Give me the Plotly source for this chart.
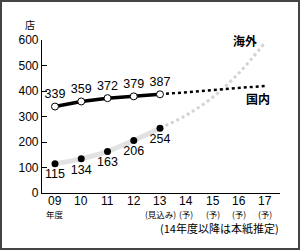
import plotly.graph_objects as go

years = ["09", "10", "11", "12", "13", "14", "15", "16", "17"]
sub_labels = ["年度", "", "", "", "(見込み)", "(予)", "(予)", "(予)", "(予)"]
domestic_actual = [339, 359, 372, 379, 387]
domestic_forecast = [387, 395, 403, 411, 420]
overseas_actual = [115, 134, 163, 206, 254]
overseas_forecast = [254, 305, 375, 470, 590]

W, H = 302, 252
def px(x): return x / W
def py(y): return 1 - y / H

FONT = "Liberation Sans, Arial, Noto Sans CJK JP"
JP = "Noto Sans CJK JP, Liberation Sans"

xa = list(range(5))
xf = list(range(4, 9))

fig = go.Figure()
fig.add_trace(go.Scatter(x=xa, y=overseas_actual, mode="lines",
                         line=dict(color="#e2e2e2", width=5, shape="spline"),
                         hoverinfo="skip", showlegend=False))
fig.add_trace(go.Scatter(x=xf, y=overseas_forecast, mode="lines",
                         line=dict(color="#d4d4d4", width=3, dash="dot", shape="spline"),
                         hoverinfo="skip", showlegend=False))
fig.add_trace(go.Scatter(x=xf, y=domestic_forecast, mode="lines",
                         line=dict(color="black", width=2.5, dash="dot"),
                         hoverinfo="skip", showlegend=False))
fig.add_trace(go.Scatter(x=xa, y=domestic_actual, mode="lines+markers+text",
                         line=dict(color="black", width=3.5),
                         marker=dict(size=7, color="white", line=dict(color="black", width=1)),
                         text=[str(v) for v in domestic_actual], textposition="top center",
                         textfont=dict(family=FONT, size=12.5, color="black"),
                         showlegend=False, cliponaxis=False))
fig.add_trace(go.Scatter(x=xa, y=overseas_actual, mode="markers+text",
                         marker=dict(size=7, color="black"),
                         text=[str(v) for v in overseas_actual], textposition="bottom center",
                         textfont=dict(family=FONT, size=12.5, color="black"),
                         showlegend=False, cliponaxis=False))

annotations = []
for i, yr in enumerate(years):
    annotations.append(dict(x=i, y=py(200.5), xref="x", yref="paper", text=yr,
                            showarrow=False, font=dict(family=FONT, size=12, color="black"),
                            xanchor="center", yanchor="middle", borderpad=0))
for i, s in enumerate(sub_labels):
    if s:
        annotations.append(dict(x=i, y=py(214), xref="x", yref="paper", text=s,
                                showarrow=False, font=dict(family=JP, size=8.5, color="black"),
                                xanchor="center", yanchor="middle", borderpad=0))

def note(x, y, text, size):
    return dict(x=px(x), y=py(y), xref="paper", yref="paper", text=text, showarrow=False,
                xanchor="center", yanchor="middle", borderpad=0,
                font=dict(family=JP, size=size, color="black"))

annotations += [
    note(30, 24, "店", 10),
    note(245, 40, "<b>海外</b>", 12),
    note(258, 99, "<b>国内</b>", 12),
    note(219, 228, "(14年度以降は本紙推定)", 11),
]

fig.update_layout(
    width=W, height=H, margin=dict(l=0, r=0, t=0, b=0),
    paper_bgcolor="white", plot_bgcolor="white",
    xaxis=dict(domain=[px(42), px(280)], range=[-0.495, 8.571], automargin=False,
               tickmode="array", tickvals=list(range(9)), showticklabels=False,
               showline=True, linecolor="black", linewidth=1.2, ticks="",
               showgrid=False, zeroline=False),
    yaxis=dict(domain=[py(193), py(40)], range=[0, 600], automargin=False,
               tickvals=[0, 100, 200, 300, 400, 500, 600],
               showline=True, linecolor="black", linewidth=1.2,
               ticks="inside", ticklen=5, tickcolor="black",
               showgrid=False, zeroline=False,
               tickfont=dict(family=FONT, size=12, color="black")),
    annotations=annotations,
    shapes=[dict(type="rect", xref="paper", yref="paper",
                 x0=px(1), x1=px(299), y0=py(249), y1=py(1),
                 line=dict(color="#444444", width=2))],
    font=dict(family=FONT),
)

fig.write_html("out.html")
